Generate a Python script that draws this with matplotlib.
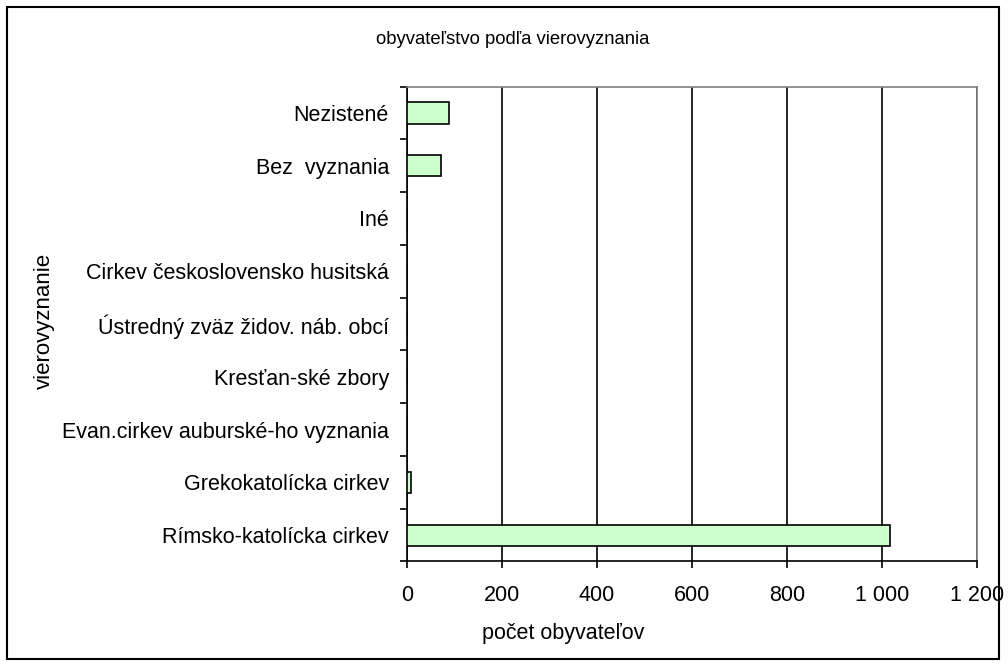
import numpy as np
import matplotlib.pyplot as plt
import matplotlib.patches as mpatches

plt.rcParams['font.family'] = ['Liberation Sans', 'DejaVu Sans']

categories = ['Rímsko-katolícka cirkev', 'Grekokatolícka cirkev',
              'Evan.cirkev auburské-ho vyznania', 'Kresťan-ské zbory',
              'Ústredný zväz židov. náb. obcí', 'Cirkev československo husitská',
              'Iné', 'Bez  vyznania', 'Nezistené']
values = [1017, 8, 0, 0, 0, 0, 0, 71, 88]
xticks = [0, 200, 400, 600, 800, 1000, 1200]
xtick_labels = ['0', '200', '400', '600', '800', '1 000', '1 200']

fig = plt.figure(figsize=(10.08, 6.66), dpi=100)
ax = fig.add_axes([0.4038, 0.157, 0.5655, 0.713])

y = np.arange(len(categories))
ax.barh(y, values, height=0.40, color='#ccffcc', edgecolor='black', linewidth=1.2, zorder=3)

ax.set_xlim(0, 1200)
ax.set_ylim(-0.5, len(categories) - 0.5)
ax.set_xticks(xticks)
ax.set_xticklabels(xtick_labels, fontsize=15.5)
ax.set_yticks(y)
ax.set_yticklabels(categories, fontsize=15.5)
ax.tick_params(axis='y', which='major', length=0, pad=13)
ax.set_yticks(np.arange(-0.5, len(categories), 1), minor=True)
ax.tick_params(axis='y', which='minor', length=5, width=1.2, direction='out')
ax.tick_params(axis='x', length=5, width=1.2, direction='out', pad=12)

ax.grid(axis='x', color='black', linewidth=1.2, zorder=0)
for s in ['top', 'right']:
    ax.spines[s].set_color('gray')
    ax.spines[s].set_linewidth(1.2)
for s in ['left', 'bottom']:
    ax.spines[s].set_color('black')
    ax.spines[s].set_linewidth(1.2)

fig.text(44 / 1008, 1 - 321 / 666, 'vierovyznanie', fontsize=16, rotation=90,
         ha='center', va='center')
fig.text(563 / 1008, 1 - 634 / 666, 'počet obyvateľov', fontsize=15.5, ha='center', va='center')
fig.text(513 / 1008, 1 - 40 / 666, 'obyvateľstvo podľa vierovyznania', fontsize=13.3,
         ha='center', va='center')

fig.patches.append(mpatches.Rectangle((0.007, 0.011), 0.984, 0.979, transform=fig.transFigure,
                                      fill=False, edgecolor='black', linewidth=1.5))

fig.savefig('out.png', dpi=100)
